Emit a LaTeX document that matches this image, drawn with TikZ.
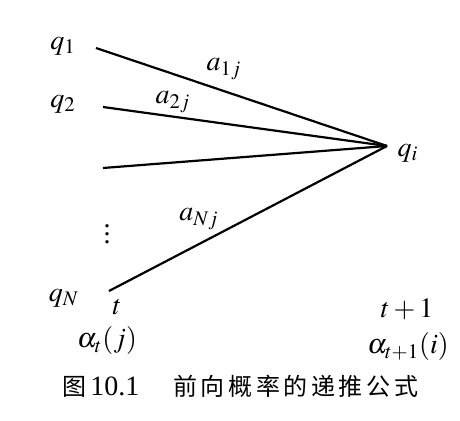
\documentclass[tikz,border=0pt]{standalone}
\usepackage{mathptmx}
\usepackage[no-math]{fontspec}
\newfontfamily\cjk[LetterSpace=15]{Noto Sans CJK SC}
\setmainfont{Liberation Serif}
\usetikzlibrary{calc}

\begin{document}
\begin{tikzpicture}[x=0.5pt, y=-0.5pt, lbl/.style={font=\fontsize{14}{16}\selectfont, inner sep=0pt}]
    \useasboundingbox (0,0) rectangle (460,421); % keep the page size

    % Where all the lines meet, and the state q_i at time t+1
    \coordinate (meet) at (387,146);
    \node[lbl] (qi) at (408,153) {$q_i$};

    % Free ends of the lines at time t
    \coordinate (s1) at (96,48);
    \coordinate (s2) at (103,107);
    \coordinate (s3) at (103,168);
    \coordinate (sN) at (109,291);

    % States at time t
    \node[lbl] (q1) at (63,46) {$q_1$};
    \node[lbl] (q2) at (63,104) {$q_2$};
    \node[lbl] (dots) at (107,228) {$\vdots$};
    \node[lbl] (qN) at (64,298) {$q_N$};

    % Transitions into q_i
    \draw[line width=1.1pt] (s1) -- (meet);
    \draw[line width=1.1pt] (s2) -- (meet);
    \draw[line width=1.1pt] (s3) -- (meet);
    \draw[line width=1.1pt] (sN) -- (meet);

    % Labels on the lines
    \node[lbl] (a1) at (224,69) {$a_{1j}$};
    \node[lbl] (a2) at (173,102) {$a_{2j}$};
    \node[lbl] (aN) at (199,219) {$a_{Nj}$};

    % Time steps and forward probabilities
    \node[lbl] (t) at (117,307) {$t$};
    \node[lbl] (alt) at (107,341) {$\alpha_t(j)$};
    \node[lbl] (t1) at (407,309) {$t+1$};
    \node[lbl] (alt1) at (408,347) {$\alpha_{t+1}(i)$};

    % Caption
    \node[inner sep=0pt, anchor=west, font=\fontsize{12}{14}\selectfont] (cap) at (62,386)
        {{\cjk 图}\hspace{2pt}{\fontsize{14}{16}\selectfont 10.1}\hspace{17pt}{\cjk 前向概率的递推公式}};
\end{tikzpicture}
\end{document}
